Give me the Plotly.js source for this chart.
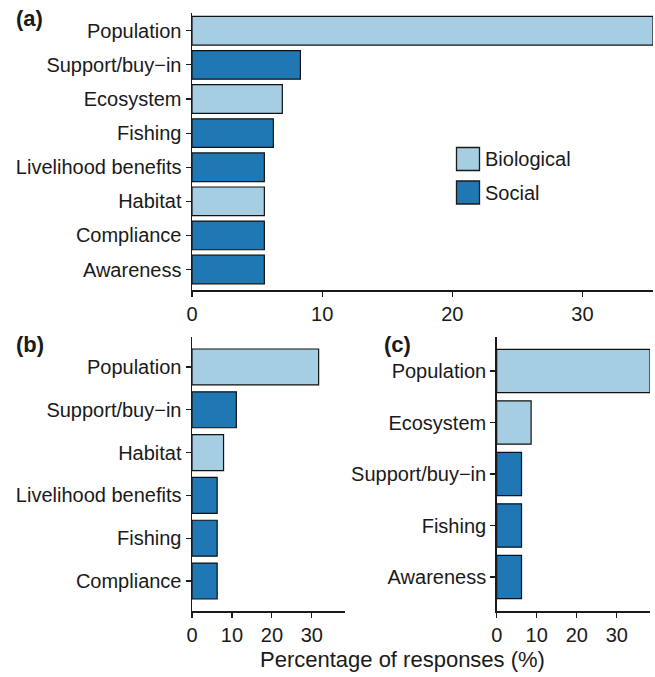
<!DOCTYPE html>
<html><head><meta charset="utf-8">
<script src="https://cdn.plot.ly/plotly-3.0.1.min.js"></script>
<style>html,body{margin:0;padding:0;background:#fff}</style>
</head><body><div id="chart" style="width:655px;height:677px"></div>
<script>
// Panel (a): all responses
const catsA = ["Population","Support/buy\u2212in","Ecosystem","Fishing","Livelihood benefits","Habitat","Compliance","Awareness"];
const valsA = [35.42, 8.33, 6.94, 6.25, 5.56, 5.56, 5.56, 5.56];
const typesA = ["Biological","Social","Biological","Social","Social","Biological","Social","Social"];
// Panel (b)
const catsB = ["Population","Support/buy\u2212in","Habitat","Livelihood benefits","Fishing","Compliance"];
const valsB = [31.7, 11.1, 7.9, 6.3, 6.3, 6.3];
const typesB = ["Biological","Social","Biological","Social","Social","Social"];
// Panel (c)
const catsC = ["Population","Ecosystem","Support/buy\u2212in","Fishing","Awareness"];
const valsC = [38.3, 8.6, 6.2, 6.2, 6.2];
const typesC = ["Biological","Biological","Social","Social","Social"];
const xTicks = [0, 10, 20, 30];
const legendLabels = ["Biological", "Social"];

const W = 655, H = 677;
const colorOf = {Biological: "#a6cee3", Social: "#1f78b4"};
const FONT = "Liberation Sans, Arial, Helvetica, sans-serif";
const px = x => x / W;
const py = y => 1 - y / H;

function barTrace(cats, vals, types, xa, ya) {
  return {
    type: "bar", orientation: "h",
    y: cats, x: vals, xaxis: xa, yaxis: ya,
    width: 0.84,
    marker: {color: types.map(t => colorOf[t]), line: {color: "#111", width: 1.2}},
    hoverinfo: "x+y", showlegend: false
  };
}

const data = [
  barTrace(catsA, valsA, typesA, "x", "y"),
  barTrace(catsB, valsB, typesB, "x2", "y2"),
  barTrace(catsC, valsC, typesC, "x3", "y3")
];

function xAxis(domain, range, anchor) {
  return {
    domain: domain, range: range, anchor: anchor,
    tickmode: "array", tickvals: xTicks, ticktext: xTicks.map(String),
    ticks: "outside", ticklen: 5, tickwidth: 1.2, tickcolor: "#1a1a1a",
    showline: true, linecolor: "#1a1a1a", linewidth: 1.5,
    showgrid: false, zeroline: false, fixedrange: true,
    tickfont: {family: FONT, size: 20, color: "#1a1a1a"}
  };
}
function yAxis(domain, cats, range, anchor) {
  return {
    domain: domain, anchor: anchor, type: "category",
    categoryorder: "array", categoryarray: cats, range: range,
    ticks: "outside", ticklen: 5, tickwidth: 1.2, tickcolor: "#1a1a1a",
    showline: true, linecolor: "#1a1a1a", linewidth: 1.5,
    showgrid: false, zeroline: false, fixedrange: true,
    tickfont: {family: FONT, size: 20, color: "#1a1a1a"}
  };
}

const shapes = [];
const annotations = [];
// manual legend
const legY = [[147.5, 170.5], [181, 204]];
legendLabels.forEach((lab, i) => {
  shapes.push({type: "rect", xref: "paper", yref: "paper",
    x0: px(456.5), x1: px(479.5), y0: py(legY[i][1]), y1: py(legY[i][0]),
    fillcolor: colorOf[lab], line: {color: "#1a1a1a", width: 1.3}});
  annotations.push({xref: "paper", yref: "paper", x: px(483), y: py((legY[i][0] + legY[i][1]) / 2),
    xanchor: "left", yanchor: "middle", showarrow: false, text: lab,
    font: {family: FONT, size: 20, color: "#1a1a1a"}});
});
// panel tags
[["(a)", 14, 19], ["(b)", 14, 344], ["(c)", 382, 344]].forEach(([t, x, y]) => {
  annotations.push({xref: "paper", yref: "paper", x: px(x), y: py(y), xanchor: "left", yanchor: "middle",
    showarrow: false, text: "<b>" + t + "</b>", font: {family: FONT, size: 22, color: "#1a1a1a"}});
});
// shared axis title
annotations.push({xref: "paper", yref: "paper", x: px(402), y: py(659), xanchor: "center", yanchor: "middle",
  showarrow: false, text: "Percentage of responses (%)", font: {family: FONT, size: 22, color: "#1a1a1a"}});

const layout = {
  width: W, height: H,
  margin: {l: 0, r: 0, t: 0, b: 0},
  paper_bgcolor: "#fff", plot_bgcolor: "#fff",
  showlegend: false,
  xaxis: xAxis([px(192), px(653)], [0, 35.42], "y"),
  yaxis: yAxis([py(290), py(12.7)], catsA, [7.6, -0.53], "x"),
  xaxis2: xAxis([px(192), px(345)], [0, 38.3], "y2"),
  yaxis2: yAxis([py(611), py(337)], catsB, [5.7, -0.7], "x2"),
  xaxis3: xAxis([px(496.7), px(650)], [0, 38.3], "y3"),
  yaxis3: yAxis([py(611), py(337)], catsC, [4.66, -0.66], "x3"),
  shapes: shapes, annotations: annotations
};

Plotly.newPlot("chart", data, layout, {displayModeBar: false, staticPlot: true});
</script></body></html>
